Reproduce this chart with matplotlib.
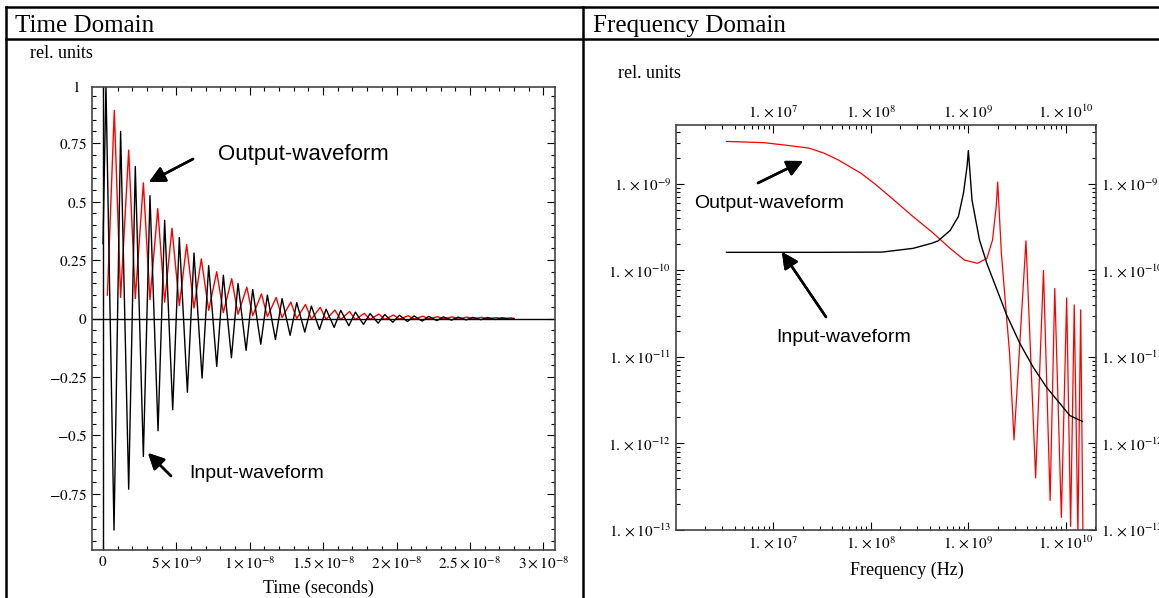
import numpy as np
import matplotlib
matplotlib.use('Agg')
import matplotlib.pyplot as plt
from matplotlib.lines import Line2D
from matplotlib.ticker import FixedLocator, NullFormatter, LogLocator

plt.rcParams['mathtext.fontset'] = 'stix'
plt.rcParams['font.family'] = ['Liberation Serif', 'DejaVu Serif']

# ---- time domain data (ns, rel. units) ----
black_t = [0.0, 0.2, 0.75, 1.2, 1.75, 2.2, 2.75, 3.2, 3.75, 4.2, 4.75, 5.2, 5.75, 6.2, 6.75,
           7.2, 7.75, 8.2, 8.75, 9.2, 9.75, 10.2, 10.75, 11.2, 11.75, 12.2, 12.75, 13.2, 13.75,
           14.2, 14.75, 15.2, 15.75, 16.2, 16.75, 17.2, 17.75, 18.2, 18.75, 19.2, 19.75, 20.2,
           20.75, 21.2, 21.75, 22.2, 22.75, 23.2, 23.75, 24.2, 24.75, 25.2, 25.75, 26.2, 26.75,
           27.2, 27.75, 28.0]
black_v = [0.32, 1.0, -0.905, 0.80, -0.73, 0.65, -0.59, 0.525, -0.48, 0.42, -0.39, 0.346, -0.315,
           0.28, -0.255, 0.226, -0.205, 0.185, -0.168, 0.15, -0.136, 0.124, -0.11, 0.10, -0.09,
           0.085, -0.072, 0.068, -0.058, 0.053, -0.047, 0.04, -0.038, 0.035, -0.031, 0.027, -0.025,
           0.021, -0.02, 0.017, -0.016, 0.014, -0.013, 0.011, -0.011, 0.009, -0.009, 0.007, -0.007,
           0.006, -0.006, 0.005, -0.005, 0.004, -0.004, 0.003, -0.003, 0.0]

red_t = [0.3, 0.77, 1.2, 1.75, 2.2, 2.75, 3.2, 3.73, 4.2, 4.7, 5.2, 5.7, 6.2, 6.7, 7.2, 7.75,
         8.2, 8.77, 9.2, 9.8, 10.2, 10.8, 11.2, 11.8, 12.2, 12.8, 13.2, 13.8, 14.2, 14.8, 15.2,
         15.8, 16.2, 16.8, 17.2, 17.8, 18.2, 18.8, 19.2, 19.8, 20.2, 20.8, 21.2, 21.8, 22.2,
         22.8, 23.2, 23.8, 24.2, 24.8, 25.2, 25.8, 26.2, 26.8, 27.2, 27.8, 28.0]
red_v = [0.10, 0.89, 0.09, 0.72, 0.085, 0.58, 0.08, 0.47, 0.07, 0.386, 0.055, 0.316, 0.045, 0.255,
         0.035, 0.20, 0.025, 0.17, 0.018, 0.134, 0.012, 0.105, 0.008, 0.09, 0.004, 0.07, 0.0,
         0.06, -0.003, 0.048, -0.004, 0.036, -0.005, 0.03, -0.005, 0.022, -0.004, 0.019, -0.004,
         0.015, -0.003, 0.012, -0.003, 0.010, -0.002, 0.008, -0.002, 0.007, -0.002, 0.006,
         -0.001, 0.005, -0.001, 0.004, -0.001, 0.003, 0.0]

# ---- frequency domain data (Hz, rel. units) ----
fin = [3.3e6, 1e7, 3e7, 1.3e8, 2.7e8, 4.2e8, 4.9e8, 6.5e8, 7.9e8, 8.9e8, 9.7e8, 1.0e9, 1.09e9,
       1.3e9, 1.55e9, 2.46e9, 3.37e9, 4.6e9, 6.3e9, 8.7e9, 1.1e10, 1.48e10]
ain = [1.62e-10, 1.62e-10, 1.62e-10, 1.63e-10, 1.8e-10, 2.06e-10, 2.2e-10, 2.9e-10, 4.2e-10,
       7.8e-10, 1.6e-9, 2.43e-9, 6.5e-10, 2.25e-10, 1.2e-10, 3.1e-11, 1.44e-11, 7.7e-12,
       4.5e-12, 2.9e-12, 2.1e-12, 1.8e-12]

fout = [3.3e6, 8e6, 1.36e7, 2.3e7, 3.3e7, 4.6e7, 7.9e7, 1.1e8, 1.7e8, 2.7e8, 4.2e8, 6.5e8, 9.1e8,
        1.24e9, 1.55e9, 1.77e9, 1.93e9, 2.0e9, 2.18e9, 2.4e9, 2.65e9, 2.94e9, 3.9e9, 4.9e9,
        5.9e9, 6.9e9, 7.7e9, 9.0e9, 1.02e10, 1.12e10, 1.22e10, 1.33e10, 1.42e10, 1.5e10]
aout = [3.1e-9, 3.0e-9, 2.8e-9, 2.6e-9, 2.27e-9, 1.9e-9, 1.33e-9, 1.0e-9, 6.6e-10, 4.2e-10,
        2.8e-10, 1.8e-10, 1.32e-10, 1.21e-10, 1.38e-10, 2.25e-10, 5.5e-10, 1.05e-9, 1.6e-10,
        4.2e-11, 1.1e-11, 1.1e-12, 2.2e-10, 4e-13, 1.0e-10, 2.2e-13, 6.2e-11, 1.4e-13, 4.8e-11,
        1.1e-13, 4e-11, 9e-14, 3.5e-11, 8e-14]

time_ticks = [0, 5e-9, 1e-8, 1.5e-8, 2e-8, 2.5e-8, 3e-8]
time_labels = ['$0$', r'$5\times10^{-9}$', r'$1\times10^{-8}$', r'$1.5\times10^{-8}$',
               r'$2\times10^{-8}$', r'$2.5\times10^{-8}$', r'$3\times10^{-8}$']
amp_ticks = [-0.75, -0.5, -0.25, 0, 0.25, 0.5, 0.75]
amp_labels = [r'$-0.75$', r'$-0.5$', r'$-0.25$', '$0$', '$0.25$', '$0.5$', '$0.75$']
freq_ticks = [1e7, 1e8, 1e9, 1e10]
freq_labels = [r'$1.\times10^{7}$', r'$1.\times10^{8}$', r'$1.\times10^{9}$', r'$1.\times10^{10}$']
mag_ticks = [1e-13, 1e-12, 1e-11, 1e-10, 1e-9]
mag_labels = [r'$1.\times10^{-13}$', r'$1.\times10^{-12}$', r'$1.\times10^{-11}$',
              r'$1.\times10^{-10}$', r'$1.\times10^{-9}$']

W, H = 1159, 598
def px(x, y):
    # pixel position (from top-left) -> figure fraction
    return (x / W, 1 - y / H)

fig = plt.figure(figsize=(W / 100, H / 100), dpi=100)

# table frame
for (x0, y0, x1, y1) in [(6, 7, W, 7), (6, 39, W, 39), (6, 7, 6, H), (583, 7, 583, H)]:
    a, b = px(x0, y0)
    c, d = px(x1, y1)
    fig.add_artist(Line2D([a, c], [b, d], color='black', lw=1.8, transform=fig.transFigure))

fig.text(*px(15, 26), 'Time Domain', fontsize=18, va='center')
fig.text(*px(593, 26), 'Frequency Domain', fontsize=18, va='center')
fig.text(*px(30, 54), 'rel. units', fontsize=13, va='center')
fig.text(*px(618, 74), 'rel. units', fontsize=13, va='center')

# ---- time domain ----
ax1 = fig.add_axes([92 / W, 1 - 550 / H, (555 - 92) / W, (550 - 87) / H])
ax1.plot(np.array(red_t) * 1e-9, red_v, color='red', lw=1.0)
ax1.plot(np.array(black_t) * 1e-9, black_v, color='black', lw=1.0)
ax1.axhline(0, color='black', lw=1.0)
ax1.axvline(0, color='black', lw=1.0)
ax1.set_xlim(-0.75e-9, 3.08e-8)
ax1.set_ylim(-0.99, 0.99)
ax1.xaxis.set_major_locator(FixedLocator(time_ticks))
ax1.set_xticklabels(time_labels)
ax1.xaxis.set_minor_locator(FixedLocator(np.arange(0, 3.05e-8, 1e-9)))
ax1.yaxis.set_major_locator(FixedLocator(amp_ticks))
ax1.set_yticklabels(amp_labels)
ax1.yaxis.set_minor_locator(FixedLocator(np.arange(-0.95, 0.96, 0.05)))
ax1.tick_params(which='both', direction='in', top=True, right=True, labelsize=11, width=0.8)
ax1.tick_params(which='major', length=6)
ax1.tick_params(which='minor', length=3)
for s in ax1.spines.values():
    s.set_linewidth(1.2)
    s.set_color('#444444')
# the "1" label at the very top is clipped in the original
fig.text(*px(80, 88), '$1$', fontsize=11, ha='right', va='center')
fig.text(*px(318, 588), 'Time (seconds)', fontsize=13, ha='center', va='center')

# ---- frequency domain ----
ax2 = fig.add_axes([676 / W, 1 - 530 / H, (1096 - 676) / W, (530 - 125) / H])
ax2.loglog(fout, aout, color='red', lw=0.9)
ax2.loglog(fin, ain, color='black', lw=1.0)
ax2.set_xlim(1e6, 2.04e10)
ax2.set_ylim(1e-13, 4.8e-9)
ax2.xaxis.set_major_locator(FixedLocator(freq_ticks))
ax2.set_xticklabels(freq_labels)
ax2.yaxis.set_major_locator(FixedLocator(mag_ticks))
ax2.set_yticklabels(mag_labels)
ax2.xaxis.set_minor_locator(LogLocator(base=10, subs=np.arange(2, 10)))
ax2.yaxis.set_minor_locator(LogLocator(base=10, subs=np.arange(2, 10)))
ax2.xaxis.set_minor_formatter(NullFormatter())
ax2.yaxis.set_minor_formatter(NullFormatter())
ax2.tick_params(which='both', direction='in', top=True, right=True, labeltop=True,
                labelright=True, labelsize=11, width=0.8)
ax2.tick_params(which='major', length=6)
ax2.tick_params(which='minor', length=3)
for s in ax2.spines.values():
    s.set_linewidth(1.2)
    s.set_color('#444444')
fig.text(*px(907, 570), 'Frequency (Hz)', fontsize=13, ha='center', va='center')

# ---- annotations ----
arrow = dict(arrowstyle='-|>', color='black', lw=1.8, mutation_scale=24, shrinkA=0, shrinkB=0)
ann = dict(xycoords='figure fraction', textcoords='figure fraction', arrowprops=arrow)
fig.text(*px(218, 154), 'Output-waveform', family='Liberation Sans', fontsize=16, va='center')
fig.add_artist(plt.annotate('', xy=px(149, 182), xytext=px(193, 159), **ann))
fig.text(*px(189, 474), 'Input-waveform', family='Liberation Sans', fontsize=14, va='center')
fig.add_artist(plt.annotate('', xy=px(148, 453), xytext=px(171, 476), **ann))
fig.text(*px(694, 203), 'Output-waveform', family='Liberation Sans', fontsize=14, va='center')
fig.add_artist(plt.annotate('', xy=px(803, 161), xytext=px(758, 183), **ann))
fig.text(*px(776, 338), 'Input-waveform', family='Liberation Sans', fontsize=14, va='center')
fig.add_artist(plt.annotate('', xy=px(782, 252), xytext=px(826, 317), **ann))

fig.savefig('out.png', dpi=100)
